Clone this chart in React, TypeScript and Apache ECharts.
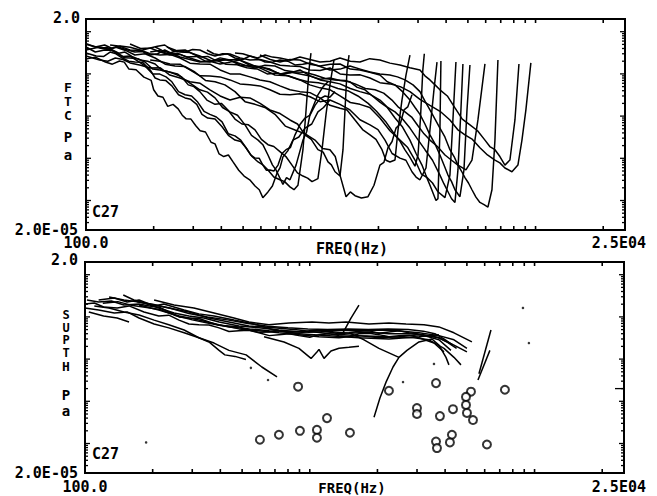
import React, { useEffect, useRef } from "react";
import * as echarts from "echarts";

type Pt = [number, number];

// ---- axis ranges ----
const FREQ_MIN = 100;
const FREQ_MAX = 25000;
const PA_MIN = 2e-5;
const PA_MAX = 2;

// ---- tick values ----
const xTickFreqs = [200, 300, 400, 500, 600, 700, 800, 900, 1000, 2000, 3000, 4000, 5000, 6000, 7000, 8000, 9000, 10000, 20000];
const yDecadeTicks = [1e-4, 1e-3, 1e-2, 1e-1, 1];
const yMinorTicks = [
  3e-5, 4e-5, 5e-5, 6e-5, 7e-5, 8e-5, 9e-5,
  2e-4, 3e-4, 4e-4, 5e-4, 6e-4, 7e-4, 8e-4, 9e-4,
  2e-3, 3e-3, 4e-3, 5e-3, 6e-3, 7e-3, 8e-3, 9e-3,
  2e-2, 3e-2, 4e-2, 5e-2, 6e-2, 7e-2, 8e-2, 9e-2,
  2e-1, 3e-1, 4e-1, 5e-1, 6e-1, 7e-1, 8e-1, 9e-1,
];
const supthMarkerTick = 2e-3;

// ---- FTC curves (freq Hz, Pa) ----
const ftc01: Pt[] = [[100,0.225],[110,0.25],[122,0.191],[131,0.17],[141,0.202],[148,0.19],[155,0.131],[167,0.125],[181,0.084],[195,0.07],[200,0.042],[209,0.030],[220,0.028],[231,0.017],[244,0.019],[257,0.0148],[268,0.0105],[279,0.0086],[293,0.0085],[308,0.0059],[322,0.0045],[340,0.0042],[360,0.0024],[375,0.0022],[391,0.00127],[410,0.0011],[430,0.0012],[451,0.00082],[478,0.00052],[505,0.00038],[535,0.00031],[565,0.00022],[590,0.00018],[612,0.000117],[645,0.00016],[675,0.00022],[708,0.00045],[730,0.0006],[752,0.00108],[790,0.0015],[833,0.0027],[885,0.0032],[943,0.0052],[1010,0.0065],[1076,0.0126],[1140,0.016],[1217,0.024]];
const ftc02: Pt[] = [[100,0.312],[111,0.265],[120,0.26],[128,0.33],[136,0.3],[145,0.238],[155,0.2],[165,0.191],[178,0.19],[193,0.124],[203,0.08],[213,0.072],[226,0.07],[241,0.052],[258,0.032],[276,0.027],[292,0.025],[311,0.019],[328,0.011],[348,0.009],[375,0.0085],[403,0.0056],[430,0.0035],[460,0.0027],[488,0.0025],[515,0.00178],[548,0.0011],[583,0.00082],[612,0.0007],[645,0.00053],[685,0.00036],[729,0.00031],[765,0.00028],[808,0.00021],[842,0.00018],[877,0.00023],[923,0.0016],[953,0.014],[982,0.124],[1002,0.312]];
const ftc03: Pt[] = [[100,0.434],[110,0.33],[121,0.368],[130,0.36],[139,0.296],[148,0.24],[157,0.238],[170,0.23],[183,0.191],[198,0.13],[213,0.124],[230,0.115],[249,0.099],[266,0.085],[285,0.055],[302,0.05],[321,0.038],[345,0.024],[375,0.019],[400,0.02],[428,0.014],[460,0.0085],[494,0.0065],[528,0.0062],[565,0.0047],[603,0.0028],[645,0.0021],[685,0.0019],[729,0.00144],[775,0.0011],[825,0.00069],[872,0.00045],[923,0.00038],[968,0.00034],[1013,0.00028],[1076,0.00033],[1122,0.0016],[1169,0.011],[1217,0.055],[1268,0.213]];
const ftc04: Pt[] = [[100,0.511],[115,0.41],[125,0.38],[135,0.434],[150,0.36],[165,0.28],[183,0.3],[203,0.238],[225,0.17],[249,0.154],[275,0.15],[305,0.111],[340,0.07],[375,0.065],[415,0.055],[460,0.038],[510,0.022],[565,0.019],[625,0.016],[693,0.011],[770,0.0058],[851,0.0047],[945,0.0038],[1044,0.0027],[1130,0.0017],[1217,0.0016],[1285,0.0011],[1349,0.0004],[1435,0.000123],[1500,0.00016],[1573,0.00013],[1680,0.000115],[1797,0.000123],[1911,0.00023],[2031,0.00069],[2115,0.0008],[2205,0.00178],[2300,0.0025],[2394,0.0052],[2500,0.0065],[2599,0.014],[2700,0.0165],[2820,0.032]];
const ftc05: Pt[] = [[100,0.368],[115,0.434],[131,0.368],[140,0.31],[149,0.33],[160,0.26],[174,0.213],[188,0.2],[203,0.172],[218,0.12],[236,0.111],[255,0.1],[276,0.072],[298,0.055],[321,0.042],[347,0.037],[375,0.027],[405,0.016],[437,0.0126],[472,0.0105],[510,0.0062],[545,0.0035],[583,0.0027],[612,0.0021],[645,0.0012],[675,0.0007],[700,0.00053],[752,0.00024],[780,0.00035],[808,0.00031],[860,0.00069],[923,0.0027],[958,0.0042],[992,0.011],[1030,0.018],[1076,0.032],[1135,0.05],[1193,0.065]];
const ftc06: Pt[] = [[115,0.41],[125,0.42],[135,0.33],[146,0.26],[157,0.265],[170,0.2],[183,0.154],[198,0.1],[213,0.099],[227,0.085],[241,0.065],[258,0.038],[276,0.032],[295,0.03],[314,0.0215],[335,0.013],[356,0.011],[380,0.0095],[403,0.0073],[430,0.0038],[460,0.0034],[488,0.0027],[515,0.00178],[540,0.0012],[565,0.00101],[590,0.001],[612,0.00069],[635,0.00052],[658,0.00053],[685,0.0005],[715,0.00069],[745,0.0013],[776,0.0016],[812,0.0018],[851,0.0036],[895,0.0063],[943,0.009],[992,0.0105],[1044,0.018],[1100,0.026],[1157,0.03],[1215,0.028],[1282,0.038]];
const ftc07: Pt[] = [[100,0.511],[110,0.434],[121,0.484],[131,0.4],[142,0.458],[157,0.43],[174,0.368],[193,0.3],[213,0.28],[236,0.29],[262,0.238],[290,0.18],[321,0.172],[356,0.17],[395,0.124],[437,0.1],[484,0.099],[536,0.085],[594,0.072],[658,0.065],[729,0.052],[808,0.042],[895,0.038],[992,0.036],[1099,0.027],[1217,0.018],[1349,0.0153],[1450,0.014],[1573,0.0081],[1700,0.0048],[1834,0.0036],[1950,0.0028],[2074,0.0016],[2160,0.0009],[2250,0.00082],[2370,0.00091],[2444,0.0047],[2545,0.024],[2652,0.094],[2762,0.28]];
const ftc08: Pt[] = [[193,0.213],[213,0.2],[236,0.172],[262,0.17],[290,0.124],[321,0.09],[356,0.089],[395,0.085],[437,0.072],[484,0.058],[536,0.055],[594,0.052],[658,0.042],[729,0.033],[808,0.032],[895,0.034],[992,0.0287],[1099,0.022],[1217,0.024],[1349,0.019],[1494,0.014],[1655,0.0082],[1834,0.0062],[1990,0.0048],[2139,0.0027],[2300,0.0013],[2493,0.00101],[2650,0.0009],[2820,0.00048],[2940,0.00036],[3060,0.00031],[3255,0.00059],[3390,0.0047],[3532,0.042],[3644,0.191]];
const ftc09: Pt[] = [[157,0.511],[175,0.4],[193,0.41],[208,0.45],[224,0.484],[242,0.36],[262,0.33],[290,0.32],[321,0.265],[365,0.2],[415,0.213],[475,0.22],[536,0.172],[610,0.13],[693,0.094],[790,0.09],[895,0.072],[990,0.055],[1099,0.0467],[1220,0.042],[1349,0.03],[1500,0.021],[1655,0.019],[1830,0.016],[2031,0.009],[2250,0.0045],[2493,0.0027],[2700,0.0018],[2908,0.00091],[3100,0.00043],[3290,0.00035],[3480,0.00026],[3680,0.000161],[3954,0.000117],[4160,0.0004],[4289,0.0081],[4424,0.191]];
const ftc10: Pt[] = [[100,0.265],[115,0.213],[125,0.2],[135,0.238],[146,0.22],[157,0.182],[175,0.16],[193,0.138],[214,0.14],[236,0.094],[262,0.08],[290,0.065],[322,0.06],[356,0.042],[395,0.03],[437,0.024],[485,0.028],[536,0.027],[595,0.02],[658,0.014],[730,0.0115],[808,0.0081],[873,0.0065],[943,0.0036],[1005,0.0028],[1076,0.0016],[1135,0.0014],[1193,0.00082],[1235,0.0007],[1282,0.00048],[1349,0.00038],[1391,0.0016],[1420,0.014],[1450,0.124],[1480,0.28]];
const ftc11: Pt[] = [[128,0.484],[142,0.45],[157,0.368],[175,0.36],[193,0.41],[214,0.33],[236,0.28],[262,0.29],[290,0.238],[322,0.2],[356,0.191],[395,0.24],[437,0.213],[485,0.16],[536,0.154],[595,0.15],[658,0.124],[730,0.1],[808,0.111],[895,0.1],[992,0.089],[1100,0.075],[1217,0.08],[1350,0.07],[1494,0.065],[1610,0.048],[1743,0.042],[1880,0.03],[2031,0.0215],[2190,0.016],[2370,0.009],[2560,0.0055],[2762,0.0027],[2940,0.0013],[3124,0.00069],[3250,0.0004],[3390,0.00023],[3606,0.0001],[3680,0.000111],[3755,0.0047],[3793,0.202]];
const ftc12: Pt[] = [[135,0.458],[150,0.38],[165,0.33],[178,0.34],[193,0.28],[208,0.3],[224,0.368],[242,0.3],[262,0.251],[290,0.22],[321,0.191],[356,0.2],[395,0.172],[437,0.19],[484,0.213],[536,0.16],[594,0.146],[658,0.13],[729,0.099],[808,0.105],[895,0.124],[992,0.09],[1099,0.072],[1217,0.065],[1349,0.058],[1500,0.045],[1655,0.038],[1830,0.033],[2031,0.024],[2200,0.016],[2370,0.0126],[2560,0.0085],[2762,0.0052],[2990,0.0028],[3222,0.0016],[3480,0.0009],[3755,0.0004],[3910,0.00025],[4077,0.000161],[4230,0.00011],[4380,0.00009],[4516,0.00053],[4656,0.014],[4752,0.172]];
const ftc13: Pt[] = [[345,0.368],[370,0.3],[395,0.28],[425,0.3],[460,0.238],[498,0.22],[536,0.265],[580,0.23],[626,0.191],[675,0.19],[729,0.213],[790,0.2],[851,0.163],[920,0.17],[992,0.182],[1100,0.15],[1217,0.124],[1350,0.13],[1494,0.154],[1660,0.13],[1834,0.111],[2030,0.1],[2250,0.094],[2430,0.085],[2625,0.072],[2850,0.055],[3060,0.038],[3230,0.022],[3390,0.014],[3570,0.0085],[3755,0.0052],[3950,0.0032],[4160,0.0016],[4340,0.0011],[4516,0.00069],[4680,0.0005],[4852,0.00035],[5030,0.00026],[5213,0.00018],[5430,0.00012],[5657,0.00009],[5900,0.00008],[6140,0.00007],[6398,0.00018],[6597,0.0027],[6802,0.213]];
const ftc14: Pt[] = [[460,0.312],[498,0.3],[536,0.265],[580,0.24],[626,0.28],[675,0.25],[729,0.238],[810,0.21],[895,0.251],[990,0.22],[1099,0.191],[1220,0.2],[1349,0.238],[1500,0.2],[1655,0.191],[1830,0.23],[2031,0.213],[2250,0.18],[2493,0.163],[2760,0.14],[3060,0.124],[3220,0.09],[3390,0.072],[3570,0.055],[3755,0.042],[4050,0.03],[4380,0.0156],[4720,0.0085],[5106,0.0062],[5520,0.0045],[5955,0.0027],[6260,0.0019],[6597,0.0016],[6940,0.0011],[7308,0.00069],[7691,0.00091],[8096,0.0081],[8436,0.172]];
const ftc15: Pt[] = [[229,0.434],[252,0.36],[276,0.33],[298,0.38],[321,0.368],[348,0.3],[375,0.265],[405,0.3],[437,0.296],[485,0.24],[536,0.213],[595,0.22],[658,0.191],[730,0.16],[808,0.154],[895,0.15],[992,0.124],[1100,0.12],[1217,0.138],[1350,0.1],[1494,0.094],[1660,0.095],[1834,0.08],[2030,0.062],[2250,0.058],[2500,0.05],[2762,0.038],[3060,0.025],[3390,0.018],[3760,0.013],[4160,0.0081],[4500,0.0048],[4852,0.0036],[5240,0.0028],[5657,0.00178],[6110,0.0012],[6597,0.00091],[6940,0.00078],[7308,0.00059],[7853,0.00048],[8347,0.00069],[8699,0.0027],[9058,0.014],[9532,0.182]];
const ftc16: Pt[] = [[203,0.434],[218,0.36],[236,0.312],[255,0.36],[276,0.368],[298,0.3],[321,0.251],[348,0.26],[375,0.213],[415,0.22],[460,0.191],[510,0.16],[565,0.138],[625,0.16],[693,0.154],[770,0.12],[851,0.111],[940,0.11],[1044,0.094],[1160,0.078],[1282,0.072],[1420,0.07],[1573,0.058],[1750,0.045],[1931,0.042],[2110,0.035],[2297,0.024],[2460,0.016],[2625,0.0126],[2810,0.0095],[2998,0.0059],[3190,0.0038],[3390,0.0027],[3660,0.0019],[3954,0.0012],[4230,0.0009],[4516,0.00069],[4901,0.00053],[5213,0.00091],[5542,0.0081],[5955,0.172]];
const ftc17: Pt[] = [[594,0.28],[660,0.22],[729,0.191],[808,0.22],[895,0.213],[990,0.17],[1099,0.154],[1220,0.17],[1349,0.172],[1500,0.13],[1655,0.124],[1830,0.11],[2031,0.094],[2190,0.065],[2370,0.055],[2560,0.038],[2762,0.024],[2910,0.016],[3060,0.011],[3220,0.0065],[3390,0.0036],[3570,0.0022],[3755,0.0012],[3910,0.0007],[4077,0.0004],[4230,0.00028],[4380,0.00018],[4609,0.000123],[4803,0.00053],[4954,0.014],[5106,0.163]];
const ftc18: Pt[] = [[193,0.33],[212,0.36],[230,0.3],[255,0.31],[280,0.25],[310,0.26],[340,0.2],[380,0.21],[420,0.17],[470,0.165],[520,0.14],[580,0.13],[640,0.1],[710,0.105],[790,0.09],[880,0.075],[970,0.065],[1080,0.062],[1190,0.055],[1320,0.045],[1460,0.04],[1620,0.03],[1800,0.02],[1960,0.013],[2150,0.0075],[2320,0.0042],[2500,0.0025],[2620,0.0016],[2750,0.0011],[2908,0.00065],[3000,0.0012],[3080,0.01],[3150,0.12],[3200,0.3]];
const ftcCurves = [ftc01, ftc02, ftc03, ftc04, ftc05, ftc06, ftc07, ftc08, ftc09, ftc10, ftc11, ftc12, ftc13, ftc14, ftc15, ftc16, ftc17, ftc18];

// ---- SUPTH curves (freq Hz, Pa) ----
const supth01: Pt[] = [[100,0.202],[110,0.213],[121,0.172],[139,0.163],[157,0.182],[183,0.131],[213,0.105],[236,0.11],[262,0.084],[290,0.068],[321,0.065],[356,0.064],[395,0.055],[437,0.045],[484,0.0467],[536,0.048],[594,0.042],[660,0.036],[729,0.038],[810,0.04],[895,0.036],[1000,0.033],[1099,0.038],[1220,0.04],[1349,0.036],[1500,0.034],[1655,0.04],[1840,0.041],[2031,0.038],[2250,0.034],[2493,0.036],[2760,0.037],[3060,0.032],[3569,0.024],[3954,0.0148]];
const supth02: Pt[] = [[102,0.251],[115,0.225],[131,0.238],[149,0.191],[174,0.202],[193,0.182],[214,0.17],[236,0.131],[262,0.1],[290,0.094],[322,0.092],[356,0.076],[395,0.063],[437,0.061],[485,0.058],[536,0.049],[595,0.043],[658,0.044],[730,0.047],[808,0.042],[900,0.041],[992,0.0467],[1100,0.049],[1217,0.044],[1350,0.04],[1494,0.042],[1660,0.046],[1834,0.0467],[2030,0.041],[2250,0.044],[2500,0.047],[2762,0.042],[3000,0.04],[3222,0.036],[3755,0.0287],[4247,0.0161]];
const supth03: Pt[] = [[100,0.163],[115,0.146],[135,0.124],[154,0.131],[174,0.094],[203,0.068],[236,0.055],[276,0.042],[321,0.032],[375,0.024],[437,0.0161],[521,0.0126],[612,0.0065],[715,0.0038]];
const supth04: Pt[] = [[110,0.182],[128,0.163],[149,0.131],[174,0.111],[203,0.084],[236,0.065],[276,0.049],[321,0.032],[356,0.0255],[395,0.0161],[419,0.0126],[465,0.0116],[520,0.0098]];
const supth05: Pt[] = [[104,0.131],[121,0.105],[139,0.094],[157,0.076]];
const supth06: Pt[] = [[148,0.33],[165,0.251],[183,0.213],[213,0.163],[249,0.124],[290,0.105],[338,0.094],[395,0.076],[484,0.061],[594,0.055],[729,0.049],[895,0.044],[1217,0.049],[1655,0.0467],[2250,0.049],[3060,0.042],[3755,0.036],[4380,0.0287],[5003,0.018]];
const supth07: Pt[] = [[203,0.251],[249,0.191],[305,0.163],[375,0.124],[460,0.094],[536,0.076],[658,0.065],[808,0.072],[1023,0.076],[1217,0.072],[1450,0.076],[1834,0.068],[2250,0.072],[2680,0.068],[3222,0.065],[3755,0.058],[4380,0.042],[5264,0.0255]];
const supth08: Pt[] = [[128,0.296],[149,0.251],[174,0.225],[203,0.191],[236,0.163],[290,0.131],[356,0.094],[437,0.076],[536,0.061],[693,0.055],[895,0.049],[1217,0.04],[1655,0.036],[2250,0.034],[2908,0.032],[3390,0.0287],[3954,0.018],[4380,0.011],[4706,0.0073]];
const supth09: Pt[] = [[174,0.191],[213,0.146],[262,0.105],[321,0.084],[395,0.065],[484,0.052],[594,0.0467],[729,0.042],[895,0.038],[1099,0.034],[1349,0.032],[1655,0.036],[2031,0.032],[2493,0.034],[3060,0.038],[3755,0.032],[4380,0.0215],[5003,0.0148]];
const supth10: Pt[] = [[115,0.251],[135,0.28],[154,0.225],[174,0.251],[203,0.182],[224,0.202],[276,0.146],[321,0.118],[375,0.105],[460,0.084],[565,0.068],[693,0.049],[895,0.04],[1217,0.036],[1655,0.032],[2250,0.03],[3060,0.034],[3755,0.038]];
const supth11: Pt[] = [[626,0.034],[768,0.0255],[895,0.018],[1013,0.0104],[1076,0.0148],[1099,0.017],[1157,0.0104],[1243,0.0156],[1349,0.018],[1494,0.019],[1655,0.0201]];
const supth12: Pt[] = [[1391,0.038],[1525,0.094],[1655,0.191]];
const supth13: Pt[] = [[1931,0.00042],[2052,0.0012],[2184,0.00285],[2346,0.0065],[2493,0.011],[2706,0.0161],[3060,0.0255],[3495,0.03],[3755,0.0215],[4037,0.011],[4160,0.0073]];
const supth14: Pt[] = [[1494,0.042],[1743,0.0287],[2031,0.018],[2493,0.011]];
const supth15: Pt[] = [[5657,0.0045],[6398,0.049]];
const supth16: Pt[] = [[5601,0.0032],[6329,0.0161]];
const supth17: Pt[] = [[120,0.21],[140,0.23],[160,0.19],[185,0.17],[215,0.15],[250,0.11],[300,0.085],[360,0.07],[440,0.058],[540,0.052],[660,0.047],[810,0.046],[990,0.043],[1220,0.045],[1500,0.041],[1840,0.043],[2250,0.04],[2760,0.04],[3200,0.038],[3700,0.033],[4100,0.025],[4500,0.018]];
const supth18: Pt[] = [[170,0.23],[200,0.2],[240,0.16],[290,0.12],[350,0.1],[430,0.085],[530,0.07],[650,0.06],[800,0.055],[980,0.052],[1200,0.05],[1480,0.052],[1820,0.05],[2230,0.052],[2740,0.05],[3200,0.046],[3600,0.04],[3950,0.03],[4300,0.022]];
const supthCurves = [supth01, supth02, supth03, supth04, supth05, supth06, supth07, supth08, supth09, supth10, supth11, supth12, supth13, supth14, supth15, supth16, supth17, supth18];

// isolated single-point thresholds
const supthDots: Pt[] = [[547,0.0062],[652,0.0032],[187,0.000106],[8880,0.163],[9438,0.024],[2599,0.00285],[3569,0.0077]];
// open-circle thresholds
const supthCircles: Pt[] = [[887,0.00222],[600,0.000123],[729,0.000161],[904,0.0002],[1076,0.00021],[1076,0.000137],[1193,0.0004],[1509,0.00018],[2250,0.00178],[3644,0.0027],[2998,0.00069],[2998,0.0005],[3793,0.000446],[4336,0.00065],[3644,0.000111],[3680,0.000078],[4289,0.000161],[4202,0.000106],[5213,0.00169],[4954,0.00127],[4954,0.00082],[5003,0.00053],[5322,0.00036],[6140,0.0000947],[7381,0.00188]];

const FONT = '"DejaVu Sans Mono", monospace';

function txt(text: string, x: number, y: number, align: string, size = 15) {
  return {
    type: "text",
    x,
    y,
    silent: true,
    style: {
      text,
      fill: "#000",
      font: `bold ${size}px ${FONT}`,
      align,
      verticalAlign: "middle",
      textAlign: align,
      textVerticalAlign: "middle",
    },
  };
}

function xTicks(idx: number) {
  return {
    type: "custom",
    xAxisIndex: idx,
    yAxisIndex: idx,
    silent: true,
    clip: false,
    z: 5,
    data: xTickFreqs.map((f) => [f, PA_MIN]),
    renderItem: (_p: any, api: any) => {
      const f = api.value(0);
      const b = api.coord([f, PA_MIN]);
      const t = api.coord([f, PA_MAX]);
      const st = { stroke: "#000", lineWidth: 1.6 };
      return {
        type: "group",
        children: [
          { type: "line", shape: { x1: b[0], y1: b[1], x2: b[0], y2: b[1] - 4 }, style: st },
          { type: "line", shape: { x1: t[0], y1: t[1], x2: t[0], y2: t[1] + 4 }, style: st },
        ],
      };
    },
  };
}

function yTicks(idx: number, withMarker: boolean) {
  const data: number[][] = [];
  yMinorTicks.forEach((v) => data.push([FREQ_MIN, v, 3, 3]));
  yDecadeTicks.forEach((v) => data.push([FREQ_MIN, v, 5, 5]));
  if (withMarker) data.push([FREQ_MIN, supthMarkerTick, 0, 9]);
  return {
    type: "custom",
    xAxisIndex: idx,
    yAxisIndex: idx,
    silent: true,
    clip: false,
    z: 5,
    data,
    renderItem: (_p: any, api: any) => {
      const v = api.value(1);
      const ll = api.value(2);
      const rl = api.value(3);
      const l = api.coord([FREQ_MIN, v]);
      const r = api.coord([FREQ_MAX, v]);
      const st = { stroke: "#000", lineWidth: 1.3 };
      const children: any[] = [];
      if (ll > 0) children.push({ type: "line", shape: { x1: l[0], y1: l[1], x2: l[0] + ll, y2: l[1] }, style: st });
      if (rl > 0) children.push({ type: "line", shape: { x1: r[0], y1: r[1], x2: r[0] - rl, y2: r[1] }, style: st });
      return { type: "group", children };
    },
  };
}

function lineSeries(data: Pt[], idx: number) {
  return {
    type: "line",
    xAxisIndex: idx,
    yAxisIndex: idx,
    data,
    symbol: "none",
    showSymbol: false,
    silent: true,
    clip: true,
    lineStyle: { color: "#000", width: 1.5 },
    z: 3,
  };
}

export default function App() {
  const ref = useRef<HTMLDivElement>(null);
  useEffect(() => {
    if (!ref.current) return;
    const chart = echarts.init(ref.current, undefined, { renderer: "svg" });
    const axisCommon = {
      axisLine: { show: false },
      axisTick: { show: false },
      axisLabel: { show: false },
      splitLine: { show: false },
    };
    const option: any = {
      animation: false,
      backgroundColor: "#fff",
      grid: [
        { left: 86, top: 19, width: 539, height: 211, show: true, borderColor: "#000", borderWidth: 2, backgroundColor: "transparent" },
        { left: 85, top: 262, width: 539, height: 211, show: true, borderColor: "#000", borderWidth: 2, backgroundColor: "transparent" },
      ],
      xAxis: [
        { type: "log", logBase: 10, min: FREQ_MIN, max: FREQ_MAX, gridIndex: 0, ...axisCommon },
        { type: "log", logBase: 10, min: FREQ_MIN, max: FREQ_MAX, gridIndex: 1, ...axisCommon },
      ],
      yAxis: [
        { type: "log", logBase: 10, min: PA_MIN, max: PA_MAX, gridIndex: 0, ...axisCommon },
        { type: "log", logBase: 10, min: PA_MIN, max: PA_MAX, gridIndex: 1, ...axisCommon },
      ],
      series: [
        ...ftcCurves.map((c) => lineSeries(c, 0)),
        ...supthCurves.map((c) => lineSeries(c, 1)),
        {
          type: "scatter",
          xAxisIndex: 1,
          yAxisIndex: 1,
          data: supthDots,
          symbol: "circle",
          symbolSize: 2.5,
          silent: true,
          itemStyle: { color: "#000" },
        },
        {
          type: "scatter",
          xAxisIndex: 1,
          yAxisIndex: 1,
          data: supthCircles,
          symbol: "emptyCircle",
          symbolSize: 8,
          silent: true,
          itemStyle: { color: "#000", borderColor: "#000", borderWidth: 2 },
          z: 4,
        },
        xTicks(0),
        xTicks(1),
        yTicks(0, false),
        yTicks(1, true),
      ],
      graphic: [
        // top panel
        txt("2.0", 80, 18, "right"),
        txt("2.0E-05", 78, 230, "right"),
        txt("100.0", 86, 243, "center"),
        txt("FREQ(Hz)", 352, 249, "center"),
        txt("2.5E04", 646, 243, "right"),
        txt("C27", 92, 212, "left"),
        txt("F", 68, 87, "center", 13),
        txt("T", 68, 101, "center", 13),
        txt("C", 68, 115, "center", 13),
        txt("P", 68, 137, "center", 14),
        txt("a", 68, 155, "center", 14),
        // bottom panel
        txt("2.0", 78, 260, "right"),
        txt("2.0E-05", 78, 473, "right"),
        txt("100.0", 85, 487, "center"),
        txt("FREQ(Hz)", 352, 488, "center", 14),
        txt("2.5E04", 646, 487, "right"),
        txt("C27", 92, 454, "left"),
        txt("S", 66, 315, "center", 12),
        txt("U", 66, 327.5, "center", 12),
        txt("P", 66, 340, "center", 12),
        txt("T", 66, 352.5, "center", 12),
        txt("H", 66, 366, "center", 13),
        txt("P", 66, 395, "center", 14),
        txt("a", 66, 411, "center", 14),
      ],
    };
    chart.setOption(option);
    return () => chart.dispose();
  }, []);
  return (
    <div
      ref={ref}
      style={{ position: "fixed", left: 0, top: 0, width: 657, height: 496, background: "#fff" }}
    />
  );
}
